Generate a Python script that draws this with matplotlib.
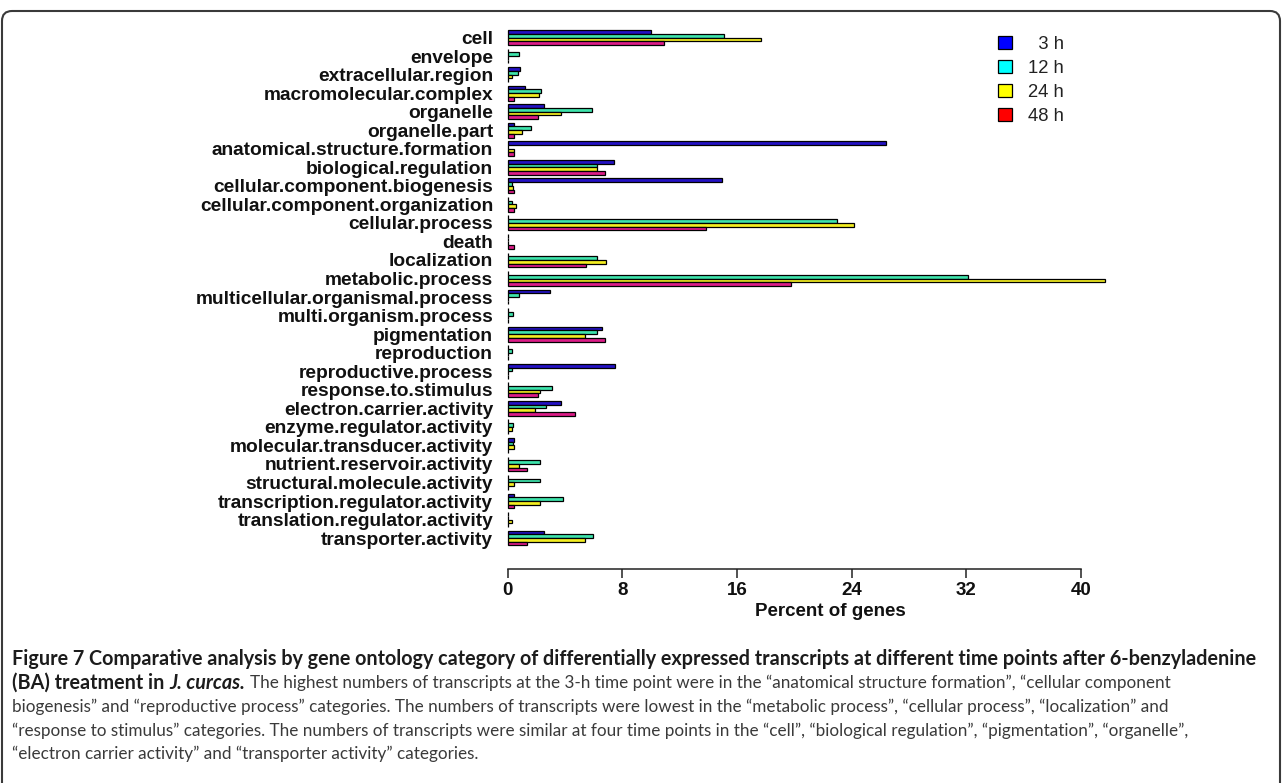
import numpy as np
import matplotlib
matplotlib.use('Agg')
import matplotlib.pyplot as plt
from matplotlib.patches import Patch, FancyBboxPatch

W, H = 1282, 783

categories = ['cell', 'envelope', 'extracellular.region', 'macromolecular.complex',
              'organelle', 'organelle.part', 'anatomical.structure.formation',
              'biological.regulation', 'cellular.component.biogenesis',
              'cellular.component.organization', 'cellular.process', 'death',
              'localization', 'metabolic.process', 'multicellular.organismal.process',
              'multi.organism.process', 'pigmentation', 'reproduction',
              'reproductive.process', 'response.to.stimulus', 'electron.carrier.activity',
              'enzyme.regulator.activity', 'molecular.transducer.activity',
              'nutrient.reservoir.activity', 'structural.molecule.activity',
              'transcription.regulator.activity', 'translation.regulator.activity',
              'transporter.activity']

pct_3h = [10.0, 0, 0.87, 1.2, 2.56, 0.44, 26.4, 7.44, 14.93, 0, 0, 0, 0, 0, 2.98, 0,
          6.6, 0, 7.46, 0, 3.74, 0, 0.44, 0, 0, 0.44, 0, 2.56]
pct_12h = [15.1, 0.8, 0.75, 2.3, 5.9, 1.63, 0, 6.23, 0.33, 0.33, 23.0, 0, 6.26, 32.1, 0.79, 0.35,
           6.25, 0.33, 0.33, 3.07, 2.65, 0.35, 0.4, 2.28, 2.28, 3.88, 0, 5.93]
pct_24h = [17.65, 0, 0.33, 2.2, 3.75, 1.0, 0.44, 6.23, 0.4, 0.6, 24.2, 0, 6.86, 41.7, 0, 0,
           5.42, 0, 0, 2.25, 1.93, 0.33, 0.44, 0.79, 0.44, 2.28, 0.33, 5.42]
pct_48h = [10.9, 0, 0, 0.44, 2.14, 0.44, 0.44, 6.77, 0.44, 0.44, 13.86, 0.44, 5.44, 19.77, 0, 0,
           6.77, 0, 0, 2.11, 4.67, 0, 0, 1.37, 0, 0.44, 0, 1.37]

series_labels = ['  3 h', '12 h', '24 h', '48 h']
bar_colors = ['#2412c4', '#3ee4ac', '#f4ee22', '#dc1c88']
legend_colors = ['#0000ff', '#00ffff', '#ffff00', '#ff0000']

caption_bold = ('Figure 7 Comparative analysis by gene ontology category of differentially '
                'expressed transcripts at different time points after 6-benzyladenine')
caption_lines = [
    'The highest numbers of transcripts at the 3-h time point were in the '
    '\u201canatomical structure formation\u201d, \u201ccellular component',
    'biogenesis\u201d and \u201creproductive process\u201d categories. The numbers of transcripts '
    'were lowest in the \u201cmetabolic process\u201d, \u201ccellular process\u201d, \u201clocalization\u201d and',
    '\u201cresponse to stimulus\u201d categories. The numbers of transcripts were similar at four '
    'time points in the \u201ccell\u201d, \u201cbiological regulation\u201d, \u201cpigmentation\u201d, \u201corganelle\u201d,',
    '\u201celectron carrier activity\u201d and \u201ctransporter activity\u201d categories.',
]

plt.rcParams['font.family'] = ['Liberation Sans', 'DejaVu Sans']

fig = plt.figure(figsize=(W / 100, H / 100), dpi=100)

# chart area: 0 sits at x=508 px, 14.33 px per percent
x0_px, px_per_unit = 507.7, 14.33
row_px, first_row_px, axis_px = 18.54, 37.5, 569
ylow = (axis_px - first_row_px) / row_px
ax_top_px = first_row_px - 0.5 * row_px
ax = fig.add_axes([x0_px / W, 1 - axis_px / H,
                   45 * px_per_unit / W, (axis_px - ax_top_px) / H])

y = np.arange(len(categories))
data = [pct_3h, pct_12h, pct_24h, pct_48h]
bh = 0.2
for k, vals in enumerate(data):
    ax.barh(y - 0.3 + k * bh, vals, height=bh, color=bar_colors[k],
            edgecolor='black', linewidth=0.9, clip_on=False)

ax.set_xlim(0, 45)
ax.set_ylim(ylow, -0.5)
ax.set_yticks(y)
ax.set_yticklabels(categories, fontsize=13.8, fontweight='bold', color='#111111')
ax.tick_params(axis='y', length=0, pad=10.5)
ax.set_xticks([0, 8, 16, 24, 32, 40])
ax.tick_params(axis='x', direction='out', length=6.5, width=1.1, pad=3,
               labelsize=13.5, color='#222222', labelcolor='#111111')
for lab in ax.get_xticklabels():
    lab.set_fontweight('bold')
ax.set_xlabel('Percent of genes', fontsize=13.5, fontweight='bold', color='#111111', labelpad=3)
for s in ['top', 'right', 'left']:
    ax.spines[s].set_visible(False)
ax.spines['bottom'].set_bounds(0, 40)
ax.spines['bottom'].set_linewidth(1.1)
ax.spines['bottom'].set_color('#222222')
ax.patch.set_visible(False)

handles = [Patch(facecolor=c, edgecolor='black', linewidth=0.9) for c in legend_colors]
ax.legend(handles, series_labels, loc='upper left',
          bbox_to_anchor=(998 / W, 1 - 36 / H), bbox_transform=fig.transFigure,
          frameon=False, fontsize=13.3, borderpad=0, borderaxespad=0,
          handlelength=0.75, handleheight=0.7, handletextpad=0.9, labelspacing=0.37,
          labelcolor='#222222')

# rounded border around the figure panel
frame = FancyBboxPatch((2, -30), W - 4, H - 11 + 30,
                       boxstyle='round,pad=0,rounding_size=10',
                       transform=None, facecolor='none', edgecolor='#3a3a3a', linewidth=1.5)
fig.add_artist(frame)

# caption
cap_font = 'Lato'
bold_size, reg_size = 14.2, 12.3
bold_color, reg_color = '#1c1c1c', '#3a3a3a'
line_px = [659, 683, 707, 731, 754]
left_px = 12

renderer = fig.canvas.get_renderer()


def put(x_px, y_px, s, **kw):
    t = fig.text(x_px / W, 1 - y_px / H, s, va='center', ha='left',
                 family=cap_font, **kw)
    return t.get_window_extent(renderer=renderer).x1


put(left_px, line_px[0], caption_bold, fontsize=bold_size, fontweight='bold', color=bold_color)
xe = put(left_px, line_px[1], '(BA) treatment in', fontsize=bold_size,
         fontweight='bold', color=bold_color)
xe = put(xe + 5, line_px[1], 'J. curcas.', fontsize=bold_size, fontweight='bold',
         fontstyle='italic', color=bold_color)
put(xe + 5, line_px[1], caption_lines[0], fontsize=reg_size, color=reg_color)
for i, line in enumerate(caption_lines[1:]):
    put(left_px, line_px[i + 2], line, fontsize=reg_size, color=reg_color)

fig.savefig('out.png', dpi=100)
